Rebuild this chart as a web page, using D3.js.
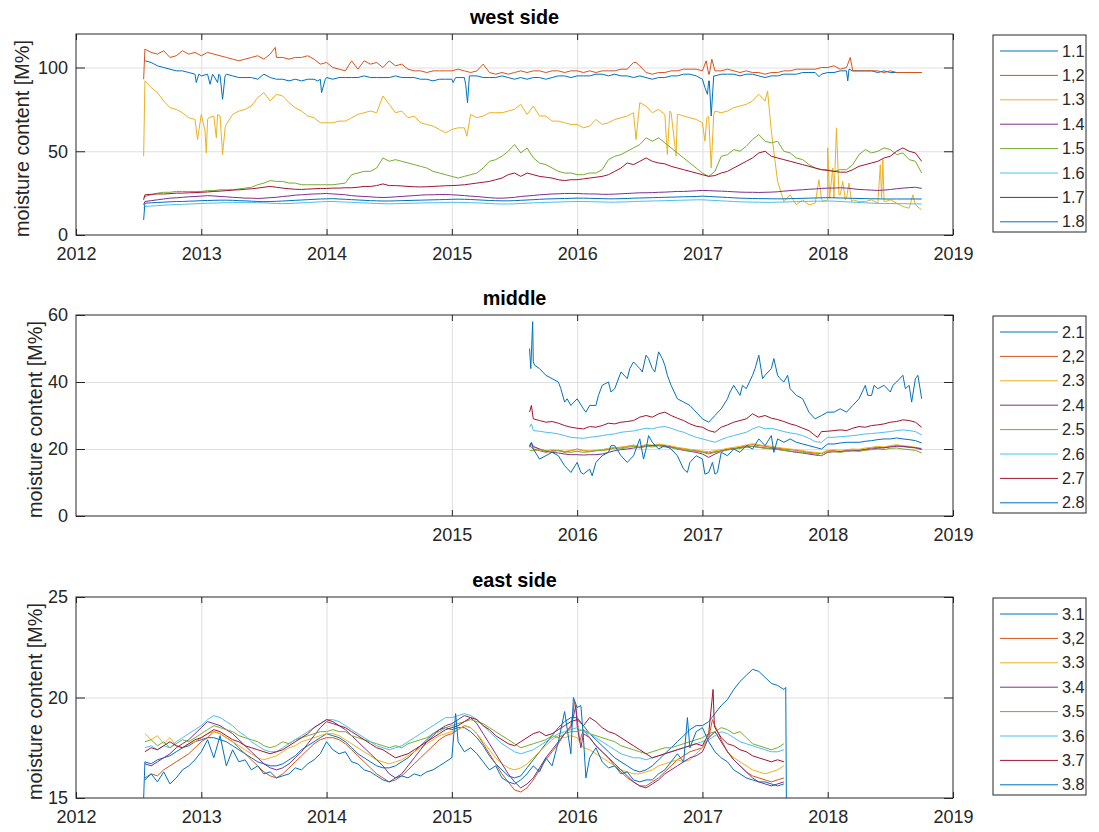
<!DOCTYPE html>
<html>
<head>
<meta charset="utf-8">
<script src="https://cdn.jsdelivr.net/npm/d3@7"></script>
<style>
    body { margin: 0; background: #ffffff; }
    svg text { font-family: Arial, "Liberation Sans", Helvetica, sans-serif; fill: #262626; }
</style>
</head>
<body>
<svg id="drawing_region"></svg>
<script>
// ---- tick labels / categories ----
const years_all = [2012, 2013, 2014, 2015, 2016, 2017, 2018, 2019];
const years_middle = [2015, 2016, 2017, 2018, 2019];
const ylim_west = [0, 120];
const ylim_middle = [0, 60];
const ylim_east = [15, 25];
const yticks_west = [0, 50, 100];
const yticks_middle = [0, 20, 40, 60];
const yticks_east = [15, 20, 25];
const names_west = ['1.1', '1,2', '1.3', '1.4', '1.5', '1.6', '1.7', '1.8'];
const names_middle = ['2.1', '2,2', '2.3', '2.4', '2.5', '2.6', '2.7', '2.8'];
const names_east = ['3.1', '3,2', '3.3', '3.4', '3.5', '3.6', '3.7', '3.8'];
const line_colors = ['#0072BD', '#D95319', '#EDB120', '#7E2F8E', '#77AC30', '#4DBEEE', '#A2142F', '#0072BD'];

// ---- west side: samples every 0.05 year from 2012.55 ----
const west_start = 2012.55, west_step = 0.05;
const w11 = [104,103,101,100,99,98,98,97,96,
    95,96,95,95,96,95,94,94,94,93,96,94,93,93,92,93,92,93,93,93,
    94,93,94,94,94,94,95,94,94,94,94,95,94,94,94,93,93,92,93,93,
    93,94,94,95,95,94,94,94,95,94,93,94,93,94,94,93,94,95,95,94,
    95,95,95,96,96,95,96,95,95,94,95,94,93,94,94,95,95,96,96,95,
    93,92,95,96,96,96,95,96,96,95,94,95,95,96,96,96,97,97,97,96,
    97,97,98,98,98,98,98,98,97,98,97,97,97,97,97,97];
const w12 = [111,109,108,110,106,107,110,108,109,
    107,109,108,107,106,105,104,105,106,107,105,108,106,106,105,106,106,107,105,102,
    103,100,99,98,104,99,104,102,103,100,104,101,102,99,98,98,97,98,98,98,
    98,99,98,97,98,102,97,96,97,96,97,98,97,98,98,97,98,98,97,98,
    98,97,98,97,98,98,98,99,99,103,101,97,96,97,97,98,98,99,99,99,
    98,96,98,98,99,98,97,98,97,97,96,97,97,98,98,99,99,99,99,100,
    100,101,99,100,98,98,98,98,98,97,98,97,97,97,97,97];
const w13 = [92,88,85,80,76,75,73,70,69,
    72,69,71,71,66,72,74,75,77,82,85,80,84,83,79,76,74,71,70,67,
    67,67,68,68,70,72,73,74,73,83,78,73,74,70,71,67,66,65,63,61,
    63,64,64,72,70,71,73,73,73,74,75,78,72,77,71,71,68,68,67,66,
    66,64,65,69,66,67,69,70,71,73,79,77,73,75,72,73,72,71,70,69,
    67,71,74,73,74,76,77,78,80,84,80,62,32,20,24,18,21,18,19,22,
    21,22,24,22,21,20,20,21,19,20,21,19,17,16,18,15];
const w14 = [20,20.5,21,21.5,22,22.2,22.5,22.8,23,
    23.2,23.5,23.3,23,22.8,22.5,22.3,22,22,21.8,22,22.3,22.5,23,23.3,23.8,24,24.3,24.5,24.6,
    24.8,24.5,24.3,24,23.5,23.2,23,22.8,22.5,22.4,22.5,22.8,23,23.3,23.5,23.8,24,24,24.2,24.2,
    24,23.8,23.5,23.2,23,22.6,22.3,22,22,22.2,22.5,23,23.3,23.6,24,24.2,24.5,24.6,24.8,24.8,
    24.8,24.6,24.5,24.5,24.3,24.3,24.4,24.6,24.8,25,25.2,25.2,25.3,25.5,25.6,25.8,26,26,26.2,26.4,
    26.6,26.5,26.3,26.2,26,25.8,25.6,25.5,25.5,25.4,25.5,25.6,25.8,26.2,26.5,26.8,27,27.3,27.5,27.8,
    28,28,28.2,28,27.6,27.2,27,26.8,26.6,26.8,27.2,27.6,28,28.3,28.5,27.8];
const w15 = [23,24,25,25.5,25.5,26,26,26,26,
    26,26.5,26.5,27,27,27,27.5,28,28.5,30,31,32.5,32,32,31,31,30,30,30,30,
    30,30,30.5,31,36,37,38,38,40,46,44,45,44,43,42,41,40,38,37,36,
    35,34,35,36,37,40,44,45,47,50,54,49,52,46,43,42,40,38,37,37,
    36,36,37,37,39,45,47,48,50,52,54,58,56,58,55,52,49,46,43,40,
    37,35,38,47,48,51,50,53,57,60,56,55,56,50,49,46,45,42,40,39,
    39,38,39,39,42,48,51,49,50,52,51,48,49,45,44,37];
const w16 = [17,17.3,17.5,17.8,18,18.2,18.3,18.5,18.6,
    18.8,19,19,19.2,19.3,19.3,19.4,19.5,19.4,19.3,19.2,19,18.8,18.7,18.8,19,19.2,19.4,19.6,19.8,
    20,20,19.8,19.7,19.5,19.3,19.2,19,18.8,18.7,18.6,18.7,18.8,18.9,19,19.1,19.2,19.2,19.3,19.4,
    19.5,19.5,19.4,19.3,19.2,19,18.8,18.6,18.5,18.5,18.6,18.8,19,19.2,19.3,19.5,19.6,19.7,19.8,19.9,
    20,20,19.9,19.8,19.7,19.6,19.6,19.7,19.8,20,20.1,20.2,20.3,20.4,20.5,20.6,20.7,20.8,20.9,21,
    21,20.8,20.6,20.4,20.2,20,19.8,19.7,19.6,19.6,19.5,19.5,19.6,19.7,19.8,19.9,20,20.1,20.2,20.2,
    20.3,20.2,20,19.8,19.6,19.4,19.2,19,18.9,18.8,18.8,18.7,18.7,18.6,18.6,18.5];
const w17 = [24,24.3,24.5,24.5,24.7,25,25,25.2,25.3,
    25.5,25.7,26,26.2,26.5,26.8,27,27.3,27.6,28,28.5,29,28.5,28,27.6,27.3,27.2,27.4,27.6,27.8,
    27.8,28,28,28.2,28.2,28.5,29,29,29.5,30.5,29.5,29.5,29.3,29,28.8,28.7,28.8,29,29.2,29.4,
    29.5,29.7,30,30.5,31,31.5,32,33,34,36,37,35,37,36,35,34.5,34,33,32.5,33,
    33,33.5,34,34.5,35,36,38,40,43,42,44,46,44,43,42.5,41,40,39,38,37,
    36,35,35.5,37,38,40,42,44,46,49,50,47,46,45,44,43,42,41,40,39,
    38.5,38,37.5,37.5,39,41,42,43,44,46,47,50,52,50,49,44];
const w18 = [19,19.2,19.4,19.6,19.8,20,20,20.2,20.3,
    20.5,20.6,20.7,20.8,20.8,20.7,20.5,20.4,20.2,20,19.9,20,20.1,20.3,20.5,20.7,20.9,21.1,21.3,21.5,
    21.6,21.7,21.5,21.3,21.1,20.9,20.7,20.5,20.4,20.3,20.3,20.4,20.5,20.6,20.7,20.8,20.9,21,21.1,21.2,
    21.3,21.4,21.3,21.2,21,20.8,20.6,20.5,20.4,20.4,20.5,20.7,20.9,21.1,21.3,21.5,21.6,21.7,21.8,21.9,
    22,22,21.9,21.8,21.7,21.6,21.6,21.7,21.8,22,22.1,22.2,22.3,22.4,22.5,22.6,22.7,22.8,22.9,23,
    23.2,23,22.8,22.6,22.4,22.2,22,21.9,21.8,21.7,21.7,21.6,21.6,21.6,21.7,21.8,21.9,22,22.1,22.2,
    22.3,22.2,22.1,22,21.9,21.8,21.7,21.6,21.6,21.5,21.5,21.5,21.5,21.5,21.5,21.5];
// short events between the regular samples: [year, value]
const w11_events = [[2012.96,91],[2012.98,96],[2013.07,90],[2013.09,96],[2013.13,91],[2013.14,96],
    [2013.17,81],[2013.19,95],[2013.93,92],[2013.96,85],[2013.99,93],[2015.01,91],[2015.03,94],
    [2015.11,90],[2015.125,79],[2015.14,95],[2017.02,88],[2017.04,84],[2017.055,92],[2017.07,71],
    [2017.09,95],[2017.93,94.5],[2018.16,92],[2018.17,99]];
const w12_events = [[2012.54,93],[2013.59,112],[2016.47,103],[2017.03,104],[2017.055,96],[2017.075,105],[2018.18,106]];
const w13_events = [[2012.54,47],[2012.97,57],[2013.03,62],[2013.04,49],[2013.06,70],[2013.12,58],
    [2013.13,72],[2013.17,48],[2013.19,64],[2015.12,59],[2016.47,57],[2016.49,72],[2016.72,48],
    [2016.74,74],[2016.79,47],[2016.81,72],[2017.02,56],[2017.035,70],[2017.07,40],[2017.09,72],
    [2017.52,86],[2017.93,33],[2017.96,20],[2018.0,52],[2018.015,22],[2018.04,40],[2018.07,64],
    [2018.09,24],[2018.12,32],[2018.14,21],[2018.17,31],[2018.19,20],[2018.42,42],[2018.43,22],
    [2018.44,45],[2018.46,20],[2018.68,24]];
const w14_events = [[2012.54,18]];
const w15_events = [[2012.54,22]];
const w16_events = [[2012.54,16]];
const w17_events = [[2012.54,21]];
const w18_events = [[2012.54,9]];

// ---- middle: samples every 0.05 year from 2015.65 ----
const middle_start = 2015.65, middle_step = 0.05;
const m21 = [46,44,42,41,40,34,33,
    35,32,33,33,39,40,38,43,41,46,44,48,44,49,45,39,35,34,33,31,
    29,28,30,32,35,39,36,38,42,48,42,44,42,40,38,36,35,31,29,30,
    31,31,32,31,33,35,39,36,38,39,37,40,42,39,41,35];
const m22 = [20,19.5,19,19.5,19.5,19,19.5,
    20,19.5,19.3,19.5,19.8,20,20.5,20.3,20.8,21,20.5,21.2,21,21.3,21,20.7,20.3,20,19.8,19.5,
    19.2,18.8,19.2,19.5,20,20.2,20.5,21,21.3,21,20.8,20.5,20.3,20,19.8,19.6,19.3,19,18.8,18.6,
    19.5,19.5,19.2,19.6,19.8,19.5,20,20.3,20.5,20.3,20.8,21,20.7,20.5,20.3,19.8];
const m23 = [20.5,20,19.5,19.8,19.6,19.3,19.6,
    19.8,19.6,19.4,19.6,19.8,20.2,20.4,20.6,20.8,21.2,20.8,21.3,21.2,21.5,21.2,20.9,20.5,20.2,19.9,19.7,
    19.4,19.2,19.5,19.8,20.2,20.5,20.8,21.2,21.6,21.3,21,20.8,20.5,20.2,20,19.8,19.5,19.2,19,18.8,
    19.6,19.8,19.6,19.8,20,19.9,20.3,20.5,20.8,20.6,21,21.3,21,20.8,20.5,20.2];
const m24 = [20.8,20,19.3,19,18.8,18.5,18.3,
    18.3,18.2,18.3,18.3,18.5,19,19.5,19.8,20,20.3,20.5,20.8,21,21,20.8,20.5,20,19.6,19.3,19,
    18.5,17.5,18.5,19.3,19.8,20,20.3,20.6,20.8,20.5,20.3,20.2,20,19.6,19.3,19,18.8,18.5,18.2,18,
    19,19.2,19.2,19.4,19.5,19.6,19.8,20,20.2,20.4,20.6,20.8,20.8,20.6,20.4,20];
const m25 = [19.5,19.8,19.5,19.2,19.6,19.2,19,
    19.3,19,19.2,19.5,19.5,19.8,20.2,20,20.5,20.8,20.3,20.8,20.6,21,20.6,20.4,20,19.7,19.5,19.3,
    19,18.5,19,19.3,19.7,20,20.2,20.6,20.8,20.5,20.2,20,19.8,19.6,19.4,19.2,19,18.7,18.5,18,
    19.2,19.2,19,19.3,19.4,19.3,19.6,19.8,20,19.8,20.2,20.3,20,19.8,19.6,18.8];
const m26 = [25.5,25.3,25,24.8,24.5,24,23.5,
    23.3,23.2,23.5,23.7,24,24.3,24.5,25,25.2,25.4,25.8,26.2,26,26.5,26.7,26.2,25.5,25,24.2,23.5,
    23,22.5,22,22.8,23.5,24,24.5,25,26,26.7,26,26.2,25.7,25.2,24.8,24.5,24,23.2,22.2,22,
    23.5,23.5,23.7,23.8,24,24.2,24.5,24.6,24.8,25,25.2,25.5,25.7,25.5,25.2,24.2];
const m27 = [29,28.5,28,28.2,27.7,27,26.5,
    26.2,26,26.7,26.5,27,27.7,27.5,28,28.2,28.5,29.5,30,29.5,30.5,31,30,29.2,28.5,27.5,26.8,
    26.5,25.5,25,26.5,27.2,28,28.5,29,30.5,29.5,30,29.2,28.8,28.2,27.5,27,26.2,25.5,24,25.2,
    25.3,25.5,25.7,25.5,26.2,26.7,26.5,27,27.2,27.5,28,28.2,28.7,28.5,28,26.5];
const m28 = [20,17,18,19,18,15,13,
    16,12.5,14,16,18,19,21,18,16,18,23,20,22,20,21,20,18,14,16,18,
    17,13,12.5,19,18,20,19,21,20,23,21,24,23,22,23,22,21.5,21,20.5,20,
    21.5,21.5,21.8,22,22,22,22.3,22.5,22.8,23,23,23.3,23,22.8,22.5,21.8];
const m21_events = [[2015.62,50],[2015.63,44],[2015.645,58],[2015.66,45],[2015.87,38],[2015.92,35],
    [2016.07,31],[2016.17,36],[2016.27,37],[2016.42,44],[2016.52,43],[2016.57,47],[2016.62,43],
    [2016.68,47],[2016.72,42],[2017.22,37],[2017.32,39],[2017.42,44],[2017.48,41],[2017.57,47],
    [2017.62,41],[2017.68,42],[2018.32,36],[2018.37,39],[2018.52,39],[2018.62,38],[2018.67,34],[2018.72,42]];
const m22_events = [[2015.62,21]];
const m23_events = [[2015.62,21.5]];
const m24_events = [[2015.62,20.5],[2015.635,21.8]];
const m25_events = [[2015.62,19.5]];
const m26_events = [[2015.62,26.5],[2015.635,27.5]];
const m27_events = [[2015.62,31],[2015.635,33],[2017.92,23.5]];
const m28_events = [[2015.62,21],[2015.635,22],[2016.03,13],[2016.12,12],[2016.27,21],[2016.53,17],
    [2016.57,24],[2016.88,13],[2017.02,12.5],[2017.08,16],[2017.12,13],[2017.57,19]];

// ---- east side: samples every 0.05 year from 2012.55 ----
const east_start = 2012.55, east_step = 0.05;
const e31 = [16.8,16.7,16.9,17,17.1,17.3,17.5,17.6,17.8,
    17.9,18,18,17.9,17.8,17.6,17.4,17.2,17,16.8,16.7,16.6,16.6,16.7,16.9,17.1,17.4,17.6,17.8,18,
    18.2,18.1,18,17.8,17.5,17.2,17,16.8,16.6,16.5,16.5,16.6,16.8,17,17.3,17.6,17.9,18.2,18.4,18.5,
    18.4,18.5,18.5,18.3,18,17.6,17.1,16.7,16.4,16.1,16,16.1,16.5,16.9,17.3,17.7,18.1,18.5,18.8,19,
    19,18.6,18.2,17.9,17.6,17.3,17,16.8,16.6,16.4,16.3,16.4,16.6,16.9,17.2,17.5,17.8,18.1,18.4,18.6,
    18.6,18.8,19.2,19.6,19.9,20.4,20.8,21.1,21.4,21.3,21,20.7,20.6,20.4];
const e32 = [16,16.2,16.1,16.4,16.6,16.8,17,17.2,17.5,
    17.8,18,18.3,18.2,18,17.8,17.5,17.2,16.9,16.6,16.3,16.1,16,16.2,16.5,16.8,17.1,17.4,17.7,17.9,
    18,18,17.9,17.7,17.4,17.1,16.8,16.5,16.2,16,15.8,15.9,16.1,16.4,16.7,17,17.3,17.6,17.9,18.1,
    18.2,18.4,18.6,18.5,18.2,17.7,17.2,16.7,16.2,15.8,15.4,15.3,15.5,15.9,16.4,16.9,17.3,17.7,18.2,18.6,
    19,18.4,18,17.6,17.3,17,16.6,16.3,16,15.8,15.6,15.6,15.8,16,16.3,16.6,16.9,17.1,17.3,17.4,
    17.5,18,18.6,17.9,17.3,16.9,16.6,16.3,16.1,16,15.9,15.8,15.9,16];
const e33 = [18.2,17.9,18.1,17.7,18,17.6,17.5,17.7,17.8,
    18,18.2,18.3,18.2,18,17.8,17.6,17.4,17.2,17,16.9,17,17.1,17.3,17.5,17.6,17.8,17.9,18,18.1,
    18.2,18.2,18.1,17.9,17.7,17.5,17.3,17.1,16.9,16.8,16.7,16.8,16.9,17.1,17.3,17.5,17.7,17.9,18.1,18.2,
    18.3,18.4,18.6,18.5,18.2,17.8,17.4,17,16.7,16.5,16.4,16.5,16.7,17,17.3,17.6,17.9,18.1,18,18.1,
    18,17.5,17.4,17.2,17,16.8,16.6,16.4,16.3,16.2,16.2,16.3,16.4,16.6,16.7,16.8,16.9,16.8,16.9,17.2,
    17.5,18,18.3,17.8,17.3,17,16.8,16.6,16.4,16.3,16.2,16.3,16.4,16.6];
const e34 = [16.7,16.6,16.8,17,17.2,17.5,17.7,17.9,18.2,
    18.5,18.8,18.7,18.6,18.4,18.2,17.9,17.6,17.3,17,16.7,16.5,16.4,16.5,16.7,17,17.3,17.7,18.1,18.5,
    18.8,18.7,18.6,18.4,18.1,17.8,17.5,17.2,16.9,16.6,16.2,16,16.2,16.6,17,17.4,17.8,18.1,18.4,18.6,
    18.7,18.9,19.1,19,18.7,18.2,17.7,17.2,16.7,16.2,15.8,15.5,15.7,16,16.5,17,17.4,17.8,18.2,18.5,
    18.6,18.2,18,17.6,17.3,17,16.7,16.4,16.1,15.8,15.6,15.5,15.7,15.9,16.2,16.4,16.6,16.8,17,17.1,
    17.3,18,18.3,17.8,17.3,16.9,16.6,16.3,16,15.8,15.7,15.6,15.7,15.8];
const e35 = [17.8,17.9,17.6,17.8,17.5,17.7,17.9,17.8,18,
    18.2,18.4,18.6,18.5,18.4,18.3,18.1,18,17.9,17.8,17.6,17.5,17.6,17.8,17.7,17.9,18,18.1,18.2,18.3,
    18.3,18.4,18.3,18.3,18.1,18,17.9,17.8,17.7,17.6,17.5,17.6,17.5,17.7,17.8,17.9,18,18.2,18.3,18.5,
    18.6,18.7,18.8,18.9,18.8,18.7,18.5,18.3,18.1,17.9,17.7,17.5,17.6,17.7,17.8,17.9,18.1,18,18.2,18.3,
    18.3,18.4,18.2,18.1,18,17.9,17.8,17.6,17.5,17.4,17.3,17.2,17.3,17.4,17.5,17.5,17.6,17.7,17.8,17.9,
    18,18.2,18.3,18.5,18.4,18.2,18.3,18,17.7,17.6,17.5,17.4,17.5,17.7];
const e36 = [17.5,17.6,17.4,17.6,17.5,17.8,18,18.2,18.4,
    18.6,18.9,19.1,19,18.8,18.6,18.3,18.1,17.8,17.6,17.4,17.3,17.3,17.5,17.7,17.9,18.1,18.3,18.5,18.7,
    18.9,18.9,18.8,18.6,18.4,18.2,18,17.8,17.6,17.5,17.4,17.5,17.6,17.8,18,18.2,18.4,18.6,18.8,19,
    19,19.1,19.2,19.1,18.9,18.6,18.3,18,17.7,17.5,17.3,17.2,17.3,17.4,17.6,17.8,18,18.2,18.3,18.4,
    18.5,18.3,18.2,18,17.8,17.6,17.4,17.2,17.1,17,17,16.9,17,17.1,17.2,17.3,17.4,17.5,17.6,17.7,
    17.8,17.9,18.1,18.3,18.2,18,17.8,17.7,17.6,17.5,17.4,17.3,17.3,17.4];
const e37 = [17.3,17.5,17.4,17.6,17.8,17.6,17.5,17.7,17.9,
    18,18.2,18.4,18.3,18.1,17.9,17.8,17.6,17.5,17.4,17.3,17.2,17.3,17.4,17.6,17.8,18,18.2,18.5,18.7,
    18.9,18.8,18.6,18.5,18.3,18.1,17.9,17.7,17.5,17.4,17.2,17,17.1,17.2,17.4,17.6,17.8,18,18.2,18.4,
    18.5,18.6,18.8,19,18.9,18.6,18.4,18.1,17.9,17.7,17.6,17.8,18,18.2,18.3,18.1,18.2,18.4,18.6,18.8,
    18.9,18.6,19,18.8,18.5,18.3,18.2,18,17.8,17.6,17.4,17.2,17,17.1,17.2,17.3,17.4,17.5,17.6,17.7,
    17.6,18.2,18.5,18,17.7,17.6,17.4,17.3,17.1,17,16.9,16.8,16.9,16.8];
const e38 = [15.9,16.2,15.8,16.3,15.7,16,16.4,16.6,16.9,
    17.3,17.9,17,18.1,16.6,17.4,16.8,16.9,16.4,16.6,16.2,16.3,16,16.1,16.2,16.5,16.4,16.7,16.9,17.2,
    17.8,17.4,17.2,17.3,16.8,16.7,16.4,16.3,16.1,15.9,15.8,16,16.1,16,16.2,16.1,16.3,16.4,16.6,16.8,
    17,17.8,17.3,17.5,17.2,16.8,16.4,16.6,16,15.8,15.7,15.9,16.2,16.6,16.3,17,16.6,17.8,19.3,17.2,
    19.5,18,17,17.5,16.8,16.5,16.6,16.2,16.3,15.9,15.8,15.9,15.9,16.2,16.4,16.8,17.2,16.8,17.5,18.3,
    18.5,17.8,17.3,17,16.8,16.4,16.2,16,15.9,15.8,15.8,15.7,15.6,15.7];
const e31_events = [[2012.54,15],[2017.665,20.5],[2017.67,15]];
const e32_events = [[2015.98,19.8],[2016.02,17.8],[2017.08,18.9]];
const e33_events = [];
const e34_events = [[2015.99,19.6],[2016.03,17.5]];
const e35_events = [];
const e36_events = [];
const e37_events = [[2017.085,20.4],[2017.095,18.6]];
const e38_events = [[2015.03,19.2],[2015.97,20.0],[2016.03,19.6],[2016.07,16.0],[2016.88,19.0]];

class TimePanel {

    constructor(config, data) {
        this.config = {
            parent: config.parent,
            top: config.top,
            left: config.left || 76,
            width: config.width || 877,
            height: config.height || 201,
            title: config.title,
            ylabel_x: config.ylabel_x,
            legend_left: config.legend_left || 993
        }
        this.data = data;
        this.init();
    }

    init() {
        let self = this;

        self.chart = d3.select(self.config.parent)
            .append('g')
            .attr('transform', `translate(${self.config.left}, ${self.config.top})`);

        self.xscale = d3.scaleLinear()
            .domain([2012, 2019])
            .range([0, self.config.width]);

        self.yscale = d3.scaleLinear()
            .range([self.config.height, 0]);

        self.line = d3.line()
            .x(d => self.xscale(d[0]))
            .y(d => self.yscale(d[1]));
    }

    update() {
        let self = this;

        self.yscale.domain(self.data.ylim);

        // regular samples plus the short events, in time order
        self.lines = self.data.series.map((values, k) =>
            values.map((v, i) => [self.data.start + i * self.data.step, v])
                .concat(self.data.events[k])
                .sort((a, b) => a[0] - b[0]));

        self.render();
    }

    render() {
        let self = this;
        const w = self.config.width, h = self.config.height;
        const grid_x = self.data.xticks.filter(d => d > 2012 && d < 2019);
        const grid_y = self.data.yticks.filter(d => d > self.data.ylim[0] && d < self.data.ylim[1]);

        // grid
        self.chart.append('g')
            .attr('transform', `translate(0, ${h})`)
            .call(d3.axisBottom(self.xscale).tickValues(grid_x).tickSize(-h).tickFormat(''))
            .call(g => g.select('.domain').remove())
            .call(g => g.selectAll('line').attr('stroke', '#dfdfdf'));
        self.chart.append('g')
            .call(d3.axisLeft(self.yscale).tickValues(grid_y).tickSize(-w).tickFormat(''))
            .call(g => g.select('.domain').remove())
            .call(g => g.selectAll('line').attr('stroke', '#dfdfdf'));

        // data lines
        self.chart.selectAll('.series')
            .data(self.lines)
            .enter()
            .append('path')
            .attr('class', 'series')
            .attr('d', self.line)
            .attr('fill', 'none')
            .attr('stroke', (d, i) => line_colors[i])
            .attr('stroke-width', 1)
            .attr('stroke-linejoin', 'round');

        // axes (ticks inside, mirrored like matlab's box)
        const style_axis = g => {
            g.select('.domain').remove();
            g.selectAll('line').attr('stroke', '#262626');
            g.selectAll('text').attr('fill', '#262626').style('font-size', '18px')
                .attr('font-family', 'Arial, "Liberation Sans", sans-serif');
        };
        self.chart.append('g')
            .attr('transform', `translate(0, ${h})`)
            .call(d3.axisBottom(self.xscale).tickValues(self.data.xticks)
                .tickFormat(d3.format('d')).tickSizeInner(-6).tickSizeOuter(0).tickPadding(12))
            .call(style_axis);
        self.chart.append('g')
            .call(d3.axisTop(self.xscale).tickValues(self.data.xticks)
                .tickFormat('').tickSizeInner(-6).tickSizeOuter(0))
            .call(style_axis);
        self.chart.append('g')
            .call(d3.axisLeft(self.yscale).tickValues(self.data.yticks)
                .tickSizeInner(-9).tickSizeOuter(0).tickPadding(8))
            .call(style_axis);
        self.chart.append('g')
            .attr('transform', `translate(${w}, 0)`)
            .call(d3.axisRight(self.yscale).tickValues(self.data.yticks)
                .tickFormat('').tickSizeInner(-9).tickSizeOuter(0))
            .call(style_axis);

        self.chart.append('rect')
            .attr('width', w)
            .attr('height', h)
            .attr('fill', 'none')
            .attr('stroke', '#262626')
            .attr('stroke-width', 1);

        // title and y label
        self.chart.append('text')
            .attr('x', w / 2)
            .attr('y', -10)
            .attr('text-anchor', 'middle')
            .style('font-size', '19.8px')
            .style('font-weight', 'bold')
            .style('fill', '#000')
            .text(self.config.title);

        self.chart.append('text')
            .attr('transform', `translate(${self.config.ylabel_x - self.config.left}, ${h / 2 + 4}) rotate(-90)`)
            .attr('text-anchor', 'middle')
            .attr('dominant-baseline', 'central')
            .style('font-size', '19.8px')
            .text('moisture content [M%]');

        // legend
        const legend = self.chart.append('g')
            .attr('transform', `translate(${self.config.legend_left - self.config.left}, 1)`);
        legend.append('rect')
            .attr('width', 93)
            .attr('height', 197)
            .attr('fill', '#fff')
            .attr('stroke', '#262626')
            .attr('stroke-width', 1);
        const rows = legend.selectAll('.entry')
            .data(self.data.names)
            .enter()
            .append('g')
            .attr('class', 'entry')
            .attr('transform', (d, i) => `translate(0, ${16 + i * 24.4})`);
        rows.append('line')
            .attr('x1', 7)
            .attr('x2', 65)
            .attr('stroke', (d, i) => line_colors[i])
            .attr('stroke-width', 1);
        rows.append('text')
            .attr('x', 69)
            .attr('dy', '0.35em')
            .style('font-size', '16.2px')
            .text(d => d);
    }
}

const svg = d3.select('#drawing_region')
    .attr('width', 1099)
    .attr('height', 832);
svg.append('rect').attr('width', 1099).attr('height', 832).attr('fill', '#fff');

const west = new TimePanel({ parent: '#drawing_region', top: 34, title: 'west side', ylabel_x: 22 }, {
    names: names_west, xticks: years_all, yticks: yticks_west, ylim: ylim_west,
    start: west_start, step: west_step,
    series: [w11, w12, w13, w14, w15, w16, w17, w18],
    events: [w11_events, w12_events, w13_events, w14_events, w15_events, w16_events, w17_events, w18_events]
});
west.update();

const middle = new TimePanel({ parent: '#drawing_region', top: 315, title: 'middle', ylabel_x: 35 }, {
    names: names_middle, xticks: years_middle, yticks: yticks_middle, ylim: ylim_middle,
    start: middle_start, step: middle_step,
    series: [m21, m22, m23, m24, m25, m26, m27, m28],
    events: [m21_events, m22_events, m23_events, m24_events, m25_events, m26_events, m27_events, m28_events]
});
middle.update();

const east = new TimePanel({ parent: '#drawing_region', top: 597, title: 'east side', ylabel_x: 35 }, {
    names: names_east, xticks: years_all, yticks: yticks_east, ylim: ylim_east,
    start: east_start, step: east_step,
    series: [e31, e32, e33, e34, e35, e36, e37, e38],
    events: [e31_events, e32_events, e33_events, e34_events, e35_events, e36_events, e37_events, e38_events]
});
east.update();
</script>
</body>
</html>
